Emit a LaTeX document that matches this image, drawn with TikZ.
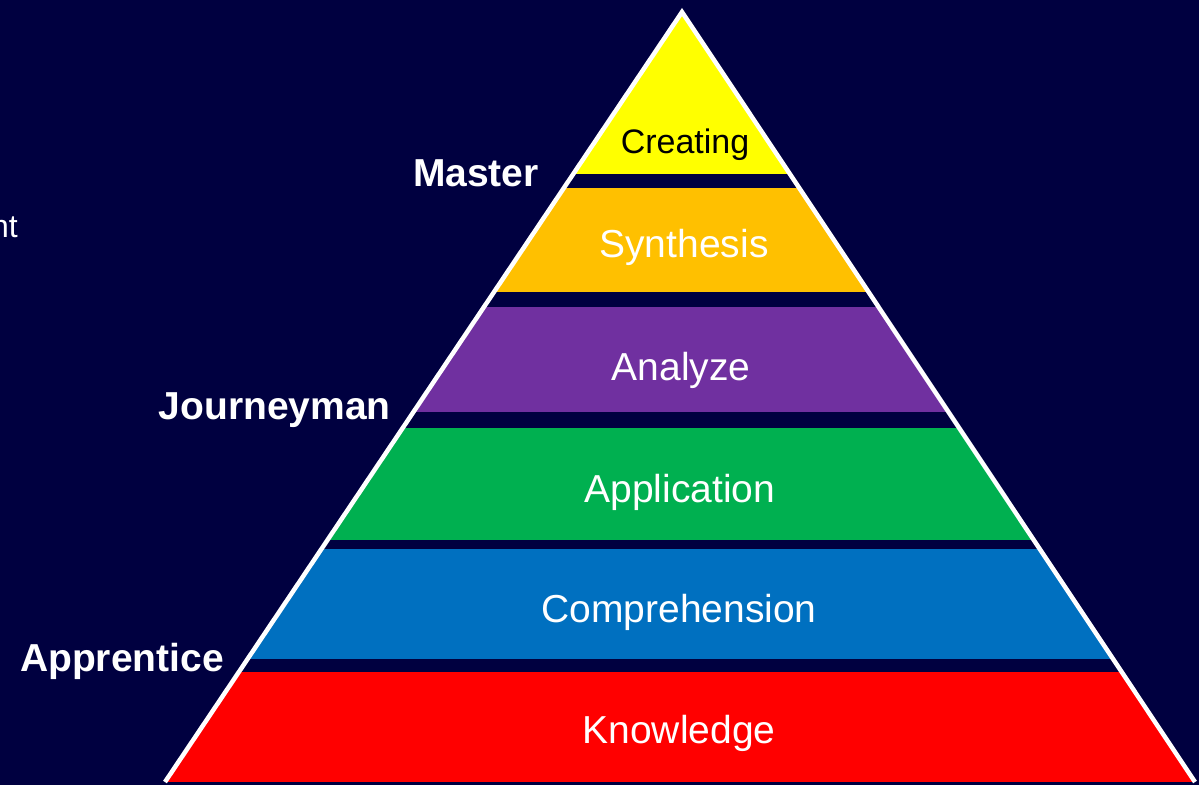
\documentclass[tikz,border=0pt]{standalone}
\usepackage{fontspec}
\setmainfont{Liberation Sans}
\definecolor{navy}{RGB}{0,0,64}
\definecolor{creatingc}{RGB}{255,255,0}
\definecolor{synthesisc}{RGB}{255,192,0}
\definecolor{analyzec}{RGB}{112,48,160}
\definecolor{applicationc}{RGB}{0,176,80}
\definecolor{comprehensionc}{RGB}{0,112,192}
\definecolor{knowledgec}{RGB}{255,0,0}

\begin{document}
\begin{tikzpicture}[x=1pt, y=-1pt,
    level/.style={anchor=base, inner sep=0pt, text=white,
      font=\fontsize{39}{44}\selectfont},
    rank/.style={anchor=base east, inner sep=0pt, text=white,
      font=\fontsize{39}{44}\selectfont\bfseries}]
  \fill[navy] (0,0) rectangle (1199,785);
  \useasboundingbox (0,0) rectangle (1199,785);
  \coordinate (apex) at (682,12);
  \coordinate (bl) at (165,782);
  \coordinate (br) at (1195,782);
  % bands of the pyramid
  \begin{scope}
    \clip (apex) -- (bl) -- (br) -- cycle;
    \fill[creatingc]      (0,0)   rectangle (1199,174);
    \fill[synthesisc]     (0,188) rectangle (1199,292);
    \fill[analyzec]       (0,307) rectangle (1199,412);
    \fill[applicationc]   (0,428) rectangle (1199,540);
    \fill[comprehensionc] (0,549) rectangle (1199,659);
    \fill[knowledgec]     (0,672) rectangle (1199,782);
  \end{scope}
  \draw[white, line width=4.5pt] (bl) -- (apex) -- (br);
  \node [level, text=black, font=\fontsize{34}{40}\selectfont]
                         (creating)      at (685,153) {Creating};
  \node [level]          (synthesis)     at (684,257) {Synthesis};
  \node [level]          (analyze)       at (681,380) {Analyze};
  \node [level]          (application)   at (680,502) {Application};
  \node [level]          (comprehension) at (679,622) {Comprehension};
  \node [level]          (knowledge)     at (679,743) {Knowledge};
  \node [rank]           (master)        at (539,186) {Master};
  \node [rank]           (journeyman)    at (391,419) {Journeyman};
  \node [rank]           (apprentice)    at (224,671) {Apprentice};
  \node [anchor=base east, inner sep=0pt, text=white,
         font=\fontsize{32}{38}\selectfont] (cut) at (18,237) {nt};
\end{tikzpicture}
\end{document}
